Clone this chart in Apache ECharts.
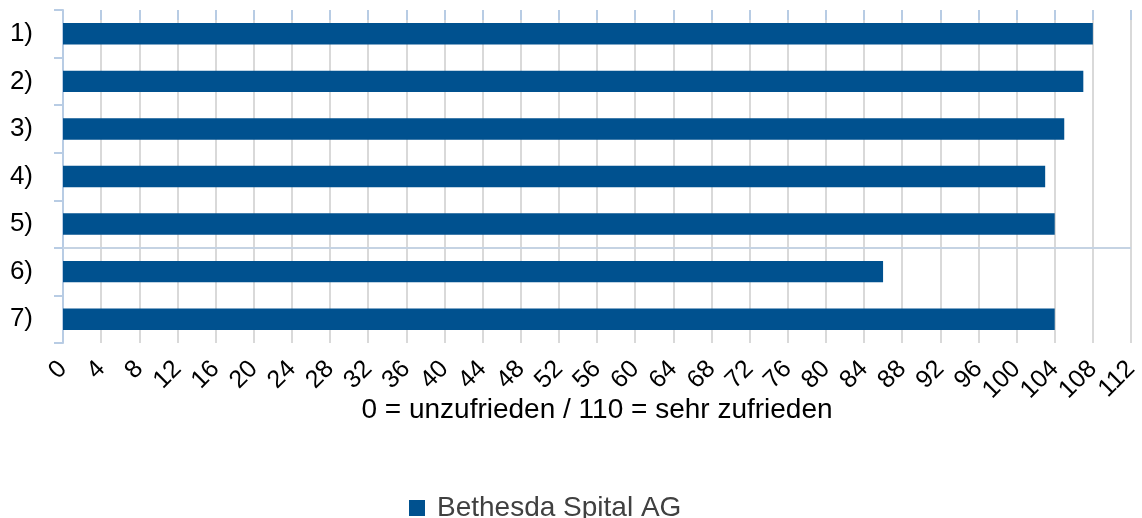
<!DOCTYPE html>
<html><head><meta charset="utf-8">
<script src="https://cdn.jsdelivr.net/npm/echarts@6/dist/echarts.min.js"></script>
<style>html,body{margin:0;padding:0;background:#fff}#c{width:1142px;height:518px}</style>
</head><body><div id="c"></div>
<script>
const categories = ['1)', '2)', '3)', '4)', '5)', '6)', '7)'];
const values = [108, 107, 105, 103, 104, 86, 104];
const seriesName = 'Bethesda Spital AG';
const axisTitle = '0 = unzufrieden / 110 = sehr zufrieden';
const separatorAt = [5]; // boundary after category 5)

const chart = echarts.init(document.getElementById('c'));
chart.setOption({
  animation: false,
  textStyle: { fontFamily: 'Liberation Sans, Arial, sans-serif' },
  grid: { left: 63, right: 11, top: 10, bottom: 175, containLabel: false },
  legend: {
    top: 489, left: 404,
    itemWidth: 16, itemHeight: 16, icon: 'rect', itemGap: 10,
    textStyle: { fontSize: 28, color: '#404040', padding: [0, 0, 0, 7], fontFamily: 'Liberation Sans, Arial, sans-serif' },
    data: [seriesName]
  },
  xAxis: {
    type: 'value', min: 0, max: 112, interval: 4,
    name: axisTitle, nameLocation: 'middle', nameGap: 53, nameMoveOverlap: false,
    nameTextStyle: { fontSize: 28, color: '#000' },
    axisLine: { show: false },
    axisTick: { show: true, length: 10, lineStyle: { color: '#b8cce4', width: 2 } },
    axisLabel: { rotate: 45, fontSize: 25, color: '#000', margin: 22, fontFamily: 'Liberation Sans, Arial, sans-serif' },
    splitLine: { show: true, lineStyle: { color: '#d9d9d9', width: 2 } }
  },
  yAxis: [{
    type: 'category', data: categories, inverse: true,
    axisLine: { show: true, lineStyle: { color: '#b8cce4', width: 2 } },
    axisTick: { show: true, length: 9, lineStyle: { color: '#b8cce4', width: 2 } },
    axisLabel: { fontSize: 26, color: '#000', margin: 30 },
    splitLine: { show: false }
  }, {
    type: 'value', min: 0, max: categories.length, inverse: true, show: false
  }],
  series: [{
    name: seriesName, type: 'bar', data: values, barWidth: '45%',
    itemStyle: { color: '#00518f' }
  }, {
    type: 'scatter', yAxisIndex: 1, data: [], silent: true,
    markLine: {
      silent: true, symbol: 'none', label: { show: false },
      lineStyle: { color: '#c5d3e3', width: 2, type: 'solid' },
      data: separatorAt.map(v => ({ yAxis: v }))
    }
  }]
});
</script></body></html>
